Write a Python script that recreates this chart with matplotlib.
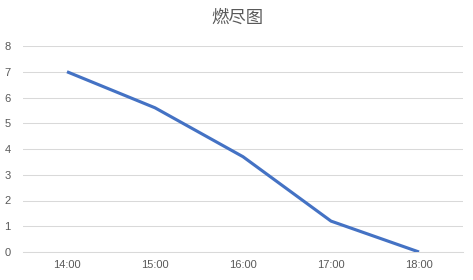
import matplotlib
matplotlib.use("Agg")
import matplotlib.pyplot as plt

plt.rcParams['font.family'] = ['Noto Sans CJK SC', 'DejaVu Sans']

title = "燃尽图"
categories = ["14:00", "15:00", "16:00", "17:00", "18:00"]
remaining = [7, 5.6, 3.7, 1.2, 0]
y_ticks = [0, 1, 2, 3, 4, 5, 6, 7, 8]

fig = plt.figure(figsize=(4.73, 2.8), dpi=100)
ax = fig.add_axes([23/473, 28/280, 440/473, 206/280])

x = list(range(len(categories)))
ax.plot(x, remaining, color='#4472C4', linewidth=2.25, solid_capstyle='butt', zorder=3)

ax.set_xlim(-0.5, len(categories) - 0.5)
ax.set_ylim(0, 8)
ax.set_yticks(y_ticks)
ax.set_xticks(x)
ax.set_xticklabels(categories)
ax.grid(axis='y', color='#D9D9D9', linewidth=0.75)
ax.set_axisbelow(True)
for s in ['top', 'right', 'left']:
    ax.spines[s].set_visible(False)
ax.spines['bottom'].set_color('#D9D9D9')
ax.spines['bottom'].set_linewidth(0.75)
ax.tick_params(axis='both', length=0, colors='#595959', labelsize=8)
ax.tick_params(axis='y', pad=9)
ax.tick_params(axis='x', pad=6)
for lbl in ax.get_xticklabels() + ax.get_yticklabels():
    lbl.set_fontfamily(['Liberation Sans', 'DejaVu Sans'])

fig.text(237/473, 1 - 18/280, title, ha='center', va='center', fontsize=12.5, color='#595959')

fig.savefig('out.png', dpi=100)
